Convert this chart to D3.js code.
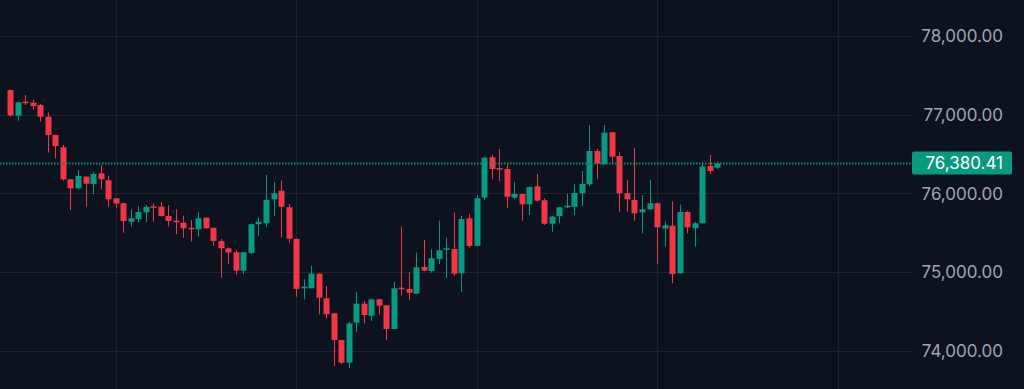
<!DOCTYPE html>
<html>
<head>
<meta charset="utf-8">
<script src="https://cdn.jsdelivr.net/npm/d3@7"></script>
<style>
  html, body { margin: 0; padding: 0; background: #0d131e; overflow: hidden; }
  #vis { width: 1024px; height: 389px; }
</style>
</head>
<body>
<div id="vis"></div>
<script>
// candle data (one entry per candle, oldest first)
const opens = [77314,76987,77165,77152,77123,76974,76742,76585,76179,76064,
  76212,76119,76255,76166,75937,75874,75640,75674,75759,75835,
  75830,75712,75652,75627,75563,75543,75691,75563,75394,75302,
  75251,75017,75242,75607,75620,75924,76034,75823,75420,74793,
  74793,74979,74666,74475,74136,73848,74356,74598,74445,74653,
  74577,74276,74801,74784,74725,75064,75013,75166,75284,75293,
  74984,75683,75331,75945,76458,76322,76310,75945,75992,75861,
  76090,75912,75614,75712,75823,75830,76001,76115,76538,76369,
  76776,76475,76001,75916,75759,75797,75874,75551,75589,74984,
  75763,75556,75620,76348,76326];
const highs = [77320,77165,77250,77190,77136,77030,76745,76615,76182,76297,
  76215,76268,76360,76224,75940,75880,75797,75839,75852,75874,
  75890,75852,75797,75716,75661,75763,75695,75565,75420,75314,
  75280,75255,75620,75696,76233,76141,76161,75865,75425,74908,
  75077,74985,74822,74480,74140,74369,74750,74632,74660,74660,
  74580,74877,75576,74997,75246,75407,75289,75652,75436,75754,
  75712,75738,75979,76466,76488,76564,76369,76144,75995,76085,
  76246,75937,75716,75827,75992,76119,76284,76869,76564,76869,
  76780,76522,76170,76573,75975,76170,75880,75645,75899,75856,
  75780,75636,76402,76488,76402];
const lows = [76975,76923,77123,77059,76911,76517,76446,76161,75788,76052,
  75830,75992,76052,75830,75810,75500,75576,75627,75632,75640,
  75705,75576,75483,75436,75386,75449,75550,75335,74928,75102,
  74962,74971,75225,75462,75569,75712,75436,75373,74686,74653,
  74790,74463,74407,73806,73827,73776,74234,74348,74378,74463,
  74136,74270,74699,74645,74720,75012,74992,75102,74928,74953,
  74750,75309,75325,75916,76179,76157,75810,75924,75652,75725,
  75894,75598,75513,75620,75810,75725,75839,76093,76179,76365,
  76373,75767,75767,75652,75492,75790,75102,75322,74857,74980,
  75492,75322,75615,76242,76306];
const closes = [76992,77157,77152,77110,76974,76742,76602,76179,76064,76221,
  76123,76246,76179,75924,75871,75649,75683,75763,75827,75818,
  75712,75649,75632,75556,75543,75683,75556,75394,75302,75248,
  75017,75251,75607,75640,75916,76001,75830,75424,74784,74814,
  74979,74674,74463,74136,73848,74346,74598,74454,74653,74572,
  74276,74793,74781,74737,75060,75017,75175,75276,75302,74979,
  75674,75331,75937,76453,76310,76310,75957,75992,75861,76081,
  75907,75614,75703,75823,75843,76005,76119,76538,76377,76771,
  76466,76001,75924,75746,75797,75874,75569,75594,74975,75763,
  75569,75620,76339,76284,76380.41];

const priceTicks = [74000, 75000, 76000, 77000, 78000];
const gridCandles = [14, 38, 62, 86, 110]; // vertical grid sits every 24 candles
const lastPrice = 76380.41;

function drawChart(){
  const size = { width: 1024, height: 389 };
  const plotRight = 912;
  const up = "#089981", down = "#f23645";

  const candles = opens.map((o, i) => ({
    i: i, open: o, high: highs[i], low: lows[i], close: closes[i]
  }));

  const x = d3.scaleLinear()
    .domain([0, 110])
    .range([10.3, 837.5]);

  const y = d3.scaleLinear()
    .domain([74000, 78000])
    .range([350.7, 36]);

  const svg = d3.select("#vis")
    .append("svg")
    .attr("viewBox", [0, 0, size.width, size.height])
    .style("width", `${size.width}px`)
    .style("height", `${size.height}px`)
    .style("display", "block");

  svg.append("rect")
    .attr("width", size.width)
    .attr("height", size.height)
    .style("fill", "#0d131e");

  // grid
  const grid = svg.append("g").style("stroke", "#1d2431").style("stroke-width", 1);
  grid.selectAll(".hgrid")
    .data(priceTicks)
    .join("line")
    .attr("class", "hgrid")
    .attr("x1", 0)
    .attr("x2", plotRight)
    .attr("y1", d => Math.round(y(d)) + 0.5)
    .attr("y2", d => Math.round(y(d)) + 0.5);
  grid.selectAll(".vgrid")
    .data(gridCandles)
    .join("line")
    .attr("class", "vgrid")
    .attr("x1", d => Math.round(x(d)) + 0.5)
    .attr("x2", d => Math.round(x(d)) + 0.5)
    .attr("y1", 0)
    .attr("y2", size.height);

  // candles
  const g = svg.append("g");
  const colour = d => d.close >= d.open ? up : down;

  g.selectAll(".wick")
    .data(candles)
    .join("line")
    .attr("class", "wick")
    .attr("x1", d => Math.round(x(d.i)) + 0.5)
    .attr("x2", d => Math.round(x(d.i)) + 0.5)
    .attr("y1", d => y(d.high))
    .attr("y2", d => y(d.low))
    .style("stroke", colour)
    .style("stroke-width", 1);

  g.selectAll(".body")
    .data(candles)
    .join("rect")
    .attr("class", "body")
    .attr("x", d => Math.round(x(d.i)) - 2.5)
    .attr("width", 6)
    .attr("y", d => y(Math.max(d.open, d.close)))
    .attr("height", d => Math.max(1.5, Math.abs(y(d.open) - y(d.close))))
    .style("fill", colour);

  // last price line, dotted
  svg.append("line")
    .attr("x1", 0)
    .attr("x2", plotRight)
    .attr("y1", Math.round(y(lastPrice)) + 0.5)
    .attr("y2", Math.round(y(lastPrice)) + 0.5)
    .style("stroke", "#0b8a75")
    .style("stroke-width", 2)
    .style("stroke-dasharray", "1.5,1.5");

  // right price axis
  const axis = svg.append("g")
    .attr("transform", `translate(1003, 0)`)
    .call(d3.axisRight(y).tickValues(priceTicks).tickSize(0).tickPadding(0)
      .tickFormat(d3.format(",.2f")));
  axis.select(".domain").remove();
  axis.selectAll("text")
    .attr("text-anchor", "end")
    .attr("dy", "0.35em")
    .style("font-family", "Inter, 'Noto Sans', sans-serif")
    .style("font-size", "17px")
    .style("fill", "#a0a5ae");

  const tag = svg.append("g").attr("transform", `translate(0, ${y(lastPrice)})`);
  tag.append("rect")
    .attr("x", 912)
    .attr("y", -12)
    .attr("width", 100)
    .attr("height", 23)
    .attr("rx", 2)
    .style("fill", up);
  tag.append("text")
    .attr("x", 1003)
    .attr("dy", "0.35em")
    .attr("text-anchor", "end")
    .style("font-family", "Inter, 'Noto Sans', sans-serif")
    .style("font-size", "17px")
    .style("fill", "#ffffff")
    .text(d3.format(",.2f")(lastPrice));
}

drawChart();
</script>
</body>
</html>
